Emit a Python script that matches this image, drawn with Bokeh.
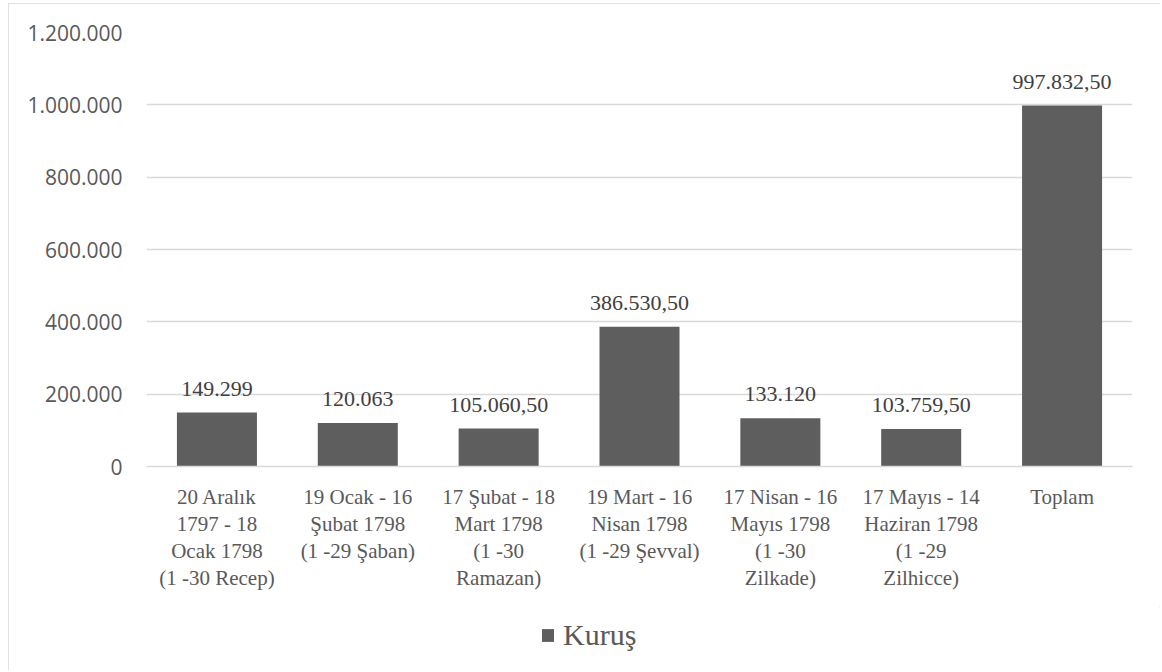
from bokeh.plotting import figure
from bokeh.layouts import column
from bokeh.models import (ColumnDataSource, FactorRange, Range1d, FixedTicker,
                          LabelSet, Legend, LegendItem)
from bokeh.embed import file_html
from bokeh.resources import INLINE

categories = [
    "20 Aralık\n1797 - 18\nOcak 1798\n(1 -30 Recep)",
    "19 Ocak - 16\nŞubat 1798\n(1 -29 Şaban)",
    "17 Şubat - 18\nMart 1798\n(1 -30\nRamazan)",
    "19 Mart - 16\nNisan 1798\n(1 -29 Şevval)",
    "17 Nisan - 16\nMayıs 1798\n(1 -30\nZilkade)",
    "17 Mayıs - 14\nHaziran 1798\n(1 -29\nZilhicce)",
    "Toplam",
]
values = [149299, 120063, 105060.5, 386530.5, 133120, 103759.5, 997832.5]
value_labels = ["149.299", "120.063", "105.060,50", "386.530,50",
                "133.120", "103.759,50", "997.832,50"]
y_ticks = [0, 200000, 400000, 600000, 800000, 1000000, 1200000]
y_tick_labels = ["0", "200.000", "400.000", "600.000", "800.000",
                 "1.000.000", "1.200.000"]
series_name = "Kuruş"

SERIF = "'Liberation Serif'"
BAR = "#5e5e5e"

src = ColumnDataSource(dict(cat=categories, val=values, lab=value_labels))
xr = FactorRange(*categories)

p = figure(width=1152, height=603, x_range=xr,
           y_range=Range1d(0, 1200000), output_backend="svg",
           toolbar_location=None, min_border_left=138, min_border_right=28,
           min_border_top=29, min_border_bottom=140)
p.outline_line_color = None
p.background_fill_color = "white"
p.border_fill_color = "white"

r = p.vbar(x="cat", top="val", width=0.568, source=src,
           fill_color=BAR, line_color=None)

labels = LabelSet(x="cat", y="val", text="lab", source=src,
                  text_align="center", text_baseline="middle", y_offset=24,
                  text_font=SERIF, text_font_size="22px",
                  text_color="#404040")
p.add_layout(labels)

# y axis
p.yaxis.ticker = FixedTicker(ticks=y_ticks)
p.yaxis.major_label_overrides = {t: l for t, l in zip(y_ticks, y_tick_labels)}
p.yaxis.axis_line_color = None
p.yaxis.major_tick_line_color = None
p.yaxis.major_tick_out = 0
p.yaxis.major_tick_in = 0
p.yaxis.minor_tick_line_color = None
p.yaxis.major_label_text_font = "Open Sans"
p.yaxis.major_label_text_font_size = "21px"
p.yaxis.major_label_text_color = "#595959"
p.yaxis.major_label_standoff = 24

# x axis
p.xaxis.axis_line_color = "#d9d9d9"
p.xaxis.axis_line_width = 1.5
p.xaxis.major_tick_line_color = None
p.xaxis.major_tick_out = 0
p.xaxis.major_tick_in = 0
p.xaxis.minor_tick_line_color = None
p.xaxis.major_label_text_font = SERIF
p.xaxis.major_label_text_font_size = "21px"
p.xaxis.major_label_text_color = "#595959"
p.xaxis.major_label_text_line_height = 1.13
p.xaxis.major_label_standoff = 18
p.xaxis.major_label_orientation = "horizontal"

p.xgrid.grid_line_color = None
p.ygrid.grid_line_color = "#d9d9d9"
p.ygrid.grid_line_width = 1.5

# legend strip below the chart (its bars sit far outside its own y-range)
pl = figure(width=1152, height=64, x_range=xr,
            y_range=Range1d(5000000, 6000000),
            output_backend="svg", toolbar_location=None,
            min_border=0, x_axis_type=None, y_axis_type=None)
pl.outline_line_color = None
pl.xgrid.grid_line_color = None
pl.ygrid.grid_line_color = None
rl = pl.vbar(x="cat", top="val", width=0.568, source=src,
             fill_color=BAR, line_color=None)
legend = Legend(items=[LegendItem(label=series_name, renderers=[rl])],
                location=(394, 18), orientation="horizontal",
                glyph_width=15, glyph_height=16, label_standoff=8,
                label_text_font=SERIF, label_text_font_size="30px",
                label_text_color="#595959", border_line_color=None,
                background_fill_alpha=0, padding=0, margin=0)
pl.add_layout(legend, "center")

layout = column(p, pl, spacing=0,
                styles={"margin-left": "8px", "margin-top": "3px",
                        "outline": "1px solid #d9d9d9",
                        "outline-offset": "-1px"})

open("out.html", "w").write(file_html(layout, INLINE))
